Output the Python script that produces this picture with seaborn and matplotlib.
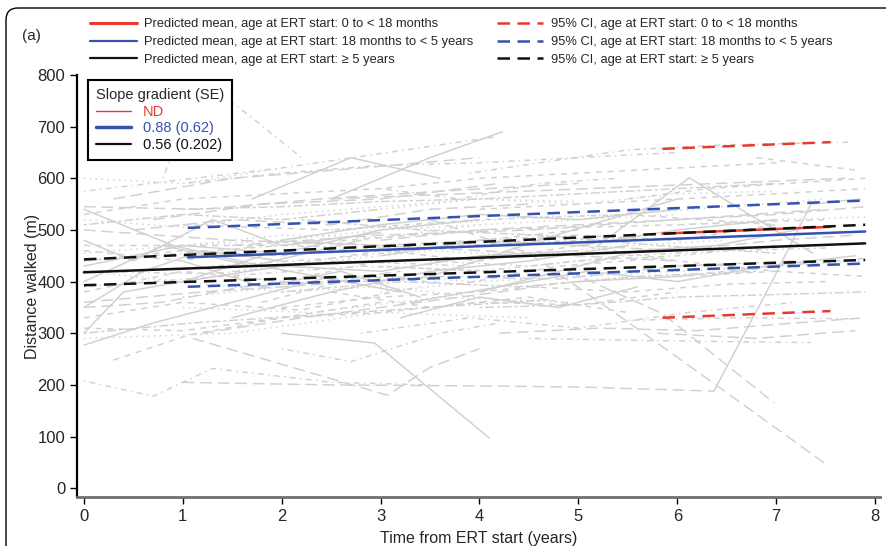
import numpy as np
import pandas as pd
import matplotlib
matplotlib.use("Agg")
import matplotlib.pyplot as plt
import seaborn as sns
from matplotlib.lines import Line2D
from matplotlib.patches import FancyBboxPatch
from matplotlib import font_manager

# individual patient trajectories (years from ERT start, distance walked in m, line type)
traj_t = [
    [0, 1, 2, 3, 4], [0, 1, 2, 3], [0, 0.7, 1.3, 2.5, 3.5], [0, 0.7, 1.5, 2.5],
    [0, 1.2, 2.4, 3.6, 5.0], [0, 1, 2, 3, 4, 5], [0, 2, 4.15], [0, 0.5, 1.3, 2.0, 3.0],
    [0, 1, 2.2, 3.4], [0, 1.1, 2.3, 3.5, 4.7], [0, 0.8, 1.7, 2.8], [0, 1, 2, 3, 4],
    [0, 1.5, 3, 4.5, 6], [0, 0.6, 1.2, 2.0], [0, 1, 2, 3, 4, 5, 6], [0, 1.3, 2.6, 3.9],
    [0, 0.9, 1.8, 3.2], [0, 1.5, 3, 4.5], [0, 1.2, 2.4, 3.6, 4.8, 6.0, 7.2], [0, 0.4, 1.0, 1.8],
    [0, 2, 4, 6, 7.5], [0, 1, 2, 3],
    [1, 2, 3, 4, 5], [1.0, 2.5, 4.0, 5.0, 6.37], [1.2, 2.2, 3.4, 4.6], [0.8, 1.15, 1.55, 2.2],
    [1.5, 2.5, 3.5, 4.5, 5.5], [1, 2, 3, 4, 5, 6], [0.3, 1.05, 2.0, 3.0], [2.0, 2.94, 4.1],
    [1.3, 2.5, 3.8, 5.0, 6.2], [0.7, 1.8, 3.0, 4.2], [2.5, 3.5, 4.23], [1.8, 2.8, 3.8, 4.8, 5.8],
    [1, 2, 3, 4, 5, 6, 7], [1.0, 1.8, 2.6, 3.4],
    [3, 4, 5, 6, 7], [3.5, 4.5, 5.5, 6.5, 7.5], [4.9, 5.85, 6.98], [3.9, 5.5, 6.5, 7.76],
    [3, 4, 5, 6, 7, 7.9], [3.2, 4.0, 4.8, 5.6], [2.5, 3.8, 5.1, 6.4, 7.7], [4, 5, 6, 7],
    [2.8, 3.9, 5.0, 6.1, 7.2], [3.5, 4.6, 5.3, 6.0], [4, 5, 6, 7, 7.9], [5.2, 6.12, 7.37],
    [3, 4, 5, 6, 7], [5, 6, 7, 7.9], [6.37, 6.95, 7.35, 7.85], [6.8, 7.8],
    [4.5, 6.0, 7.35], [5.5, 6.6, 7.76], [2, 3, 4, 5, 6], [2, 3, 4, 5],
    [2.5, 3.5, 4.5, 5.5, 6.5, 7.5], [3, 4, 5, 6, 7], [1.5, 3, 4.5, 6, 7.5], [3.3, 4.2, 5.1, 6.0, 6.9, 7.8],
    [2, 3.2, 4.4, 5.6, 6.8], [5.5, 6.3, 7.1, 7.9], [4, 4.8, 5.6, 6.4, 7.2], [1, 2.3, 3.6, 4.9],
    [0.3, 1.5, 2.8, 4.0], [1, 2, 3, 4, 5, 6], [1.7, 2.7, 3.6], [2, 3, 4, 5, 6, 7],
    [0, 1, 2], [1.1, 2.0, 3.07, 3.5, 4.0], [2.0, 2.7, 3.6, 4.2], [4.2, 5.2, 6.2, 7.2, 7.9],
    [5.0, 6.0, 7.0, 7.9], [0, 1, 2, 3, 4, 5], [2.2, 3.4, 4.6, 5.8, 7.0],
    [0, 1, 2, 3, 4, 5], [0, 1.4, 2.8, 4.2], [0.5, 1.5, 2.5, 3.5, 4.5], [1, 2, 3, 4],
    [2, 3, 4, 5, 6, 7], [3, 4, 5, 6, 7, 7.9], [4, 5, 6, 7, 7.9], [0, 1, 2, 3],
    [1.5, 2.5, 3.5, 4.5, 5.5, 6.5], [0, 0.8, 1.6, 2.4, 3.2], [3.5, 4.5, 5.5, 6.5, 7.5], [5, 6, 7, 7.8],
    [0, 1, 2, 3, 4], [2.5, 3.5, 4.5, 5.5], [4.5, 5.5, 6.5, 7.5], [6, 7, 7.9],
    [1, 2.5, 4, 5.5, 7], [5.8, 6.8, 7.8], [0, 1, 2], [3, 3.8, 4.6, 5.4],
]
traj_v = [
    [430, 470, 455, 500, 520], [380, 420, 400, 440], [208, 178, 232, 205, 200], [277, 320, 360, 410],
    [545, 540, 560, 575, 590], [520, 505, 530, 545, 560, 555], [575, 620, 680], [480, 440, 520, 470, 495],
    [330, 360, 345, 390], [300, 320, 335, 350, 365], [400, 470, 430, 480], [455, 470, 490, 485, 510],
    [500, 480, 470, 455, 440], [350, 420, 460, 440], [310, 305, 330, 340, 360, 355, 380], [420, 415, 440, 430],
    [540, 470, 430, 380], [290, 300, 340, 330], [360, 380, 395, 410, 405, 430, 440], [300, 380, 400, 450],
    [470, 470, 500, 510, 520], [510, 530, 520, 540],
    [400, 430, 420, 450, 460], [205, 200, 198, 196, 188], [300, 330, 360, 390], [600, 780, 740, 640],
    [330, 380, 420, 440, 470], [470, 480, 500, 510, 520, 530], [248, 296, 330, 360], [300, 281, 97],
    [430, 445, 470, 480, 495], [520, 550, 560, 590], [560, 640, 690], [360, 410, 395, 430, 445],
    [540, 545, 555, 560, 570, 580, 590], [440, 390, 420, 370],
    [450, 480, 470, 500, 520], [520, 455, 322, 185, 47], [420, 338, 165], [610, 655, 665, 670],
    [380, 400, 410, 420, 430, 440], [330, 370, 350, 390], [560, 570, 580, 590, 600], [470, 490, 480, 510],
    [300, 330, 310, 340, 360], [410, 480, 520, 560], [350, 355, 370, 375, 380], [470, 601, 455],
    [540, 560, 550, 570, 575], [400, 410, 430, 445], [188, 397, 550, 560], [640, 616],
    [290, 285, 282], [325, 330, 328], [480, 510, 530, 520, 540], [430, 460, 440, 470],
    [500, 510, 525, 530, 545, 560], [430, 420, 440, 450, 470], [470, 490, 500, 520, 540], [360, 390, 420, 400, 430, 450],
    [380, 400, 390, 410, 420], [560, 580, 590, 600], [380, 420, 460, 470, 500], [350, 340, 370, 360],
    [560, 600, 620, 640], [590, 610, 625, 630, 640, 650], [560, 640, 600], [570, 580, 600, 610, 620, 630],
    [600, 590, 620], [290, 240, 180, 234, 270], [270, 245, 300, 320], [300, 310, 305, 320, 330],
    [470, 440, 420, 410], [440, 455, 470, 465, 480, 490], [520, 500, 490, 470, 455],
    [440, 460, 450, 470, 480, 500], [390, 410, 430, 420], [500, 520, 510, 540, 550], [370, 390, 410, 400],
    [350, 370, 380, 400, 410, 420], [480, 500, 510, 520, 530, 545], [540, 550, 560, 570, 580], [460, 440, 480, 470],
    [420, 440, 460, 450, 470, 480], [350, 360, 390, 400, 420], [440, 430, 450, 460, 465], [470, 460, 480, 490],
    [420, 400, 380, 390, 370], [380, 350, 370, 340], [390, 380, 395, 400], [510, 520, 525],
    [510, 500, 520, 530, 510], [300, 290, 305], [530, 560, 570], [580, 560, 590, 600],
]
traj_ls = [
    "solid", "dashed", "dotdash", "solid", "longdash", "dotted", "dotdash", "solid",
    "dashed", "twodash", "solid", "dotted", "longdash", "solid", "dashed", "dotdash",
    "solid", "dotted", "longdash", "solid", "dashed", "twodash",
    "solid", "longdash", "longdash", "dotdash", "solid", "dotted", "dashed", "solid",
    "dotdash", "longdash", "solid", "dashed", "twodash", "solid",
    "solid", "longdash", "longdash", "dotdash", "dotted", "solid", "longdash", "dashed",
    "dotdash", "solid", "twodash", "solid", "dotted", "dashed", "solid", "dashed",
    "dotdash", "dotdash", "solid", "dashed", "dotted", "dotdash", "longdash", "solid",
    "twodash", "dashed", "solid", "dotted", "longdash", "dotdash", "solid", "dashed",
    "dotted", "longdash", "dotdash", "longdash", "dashed", "dotdash", "twodash",
    "dashed", "dotdash", "longdash", "dotted", "dashed", "longdash", "dashed", "dashed",
    "dotted", "longdash", "dotdash", "longdash", "dotted", "dashed", "dashed", "dotted",
    "dashed", "longdash", "dashed", "dotdash",
]

# predicted means and 95% CI (start/end of each line)
groups = ["0 to < 18 months", "18 months to < 5 years", "\u2265 5 years"]
group_colors = ["#e63a2e", "#3552b2", "#111111"]
pred_t = [[5.85, 7.55], [1.05, 7.9], [0.0, 7.9]]
pred_mean = [[493, 506], [447, 497], [418, 474]]
pred_lo = [[330, 343], [390, 435], [393, 442]]
pred_hi = [[657, 670], [504, 557], [443, 510]]
slope_labels = ["ND", "0.88 (0.62)", "0.56 (0.202)"]

dash_map = {"solid": "", "dashed": (4, 4), "dotted": (1, 3), "dotdash": (1, 3, 4, 3),
            "longdash": (8, 4), "twodash": (2, 2, 6, 2)}

rows = []
for i, (ts, vs, ls) in enumerate(zip(traj_t, traj_v, traj_ls)):
    for t, v in zip(ts, vs):
        rows.append({"id": i, "t": t, "v": v, "ls": ls})
df = pd.DataFrame(rows)

sns.set_style("ticks")
plt.rcParams["font.family"] = ["Liberation Sans", "DejaVu Sans"]
names = {f.name for f in font_manager.fontManager.ttflist}
narrow = "Liberation Sans Narrow" if "Liberation Sans Narrow" in names else "Liberation Sans"

fig = plt.figure(figsize=(8.87, 5.46), dpi=100)
ax = fig.add_axes([77 / 887, 1 - 497 / 546, 803 / 887, 422 / 546])

sns.lineplot(data=df, x="t", y="v", units="id", estimator=None, style="ls",
             dashes=dash_map, color="#d0d0d0", linewidth=1.05, sort=False,
             legend=False, ax=ax)

for k in range(3):
    pdf = pd.DataFrame({"t": pred_t[k] * 3,
                        "v": pred_mean[k] + pred_lo[k] + pred_hi[k],
                        "kind": ["mean"] * 2 + ["lo"] * 2 + ["hi"] * 2})
    for kind in ["lo", "hi"]:
        sns.lineplot(data=pdf[pdf.kind == kind], x="t", y="v", color=group_colors[k],
                     linewidth=1.8, ax=ax, legend=False, linestyle=(0, (5, 3)))
    sns.lineplot(data=pdf[pdf.kind == "mean"], x="t", y="v", color=group_colors[k],
                 linewidth=1.8, ax=ax, legend=False)

ax.set_xlim(-0.07, 8.05)
ax.set_ylim(-17, 800)
ax.set_xticks(range(0, 9))
ax.set_yticks(range(0, 801, 100))
ax.tick_params(axis="both", direction="out", length=5, width=1, labelsize=12, color="black")
for lab in ax.get_xticklabels() + ax.get_yticklabels():
    lab.set_family(narrow)
for s in ["top", "right"]:
    ax.spines[s].set_visible(False)
ax.spines["left"].set_linewidth(1.6)
ax.spines["left"].set_color("black")
ax.spines["bottom"].set_linewidth(2)
ax.spines["bottom"].set_color("#6f6f6f")
ax.set_xlabel("Time from ERT start (years)", fontsize=11.5, labelpad=5, family=narrow)
ax.set_ylabel("Distance walked (m)", fontsize=11.5, labelpad=-2, family=narrow)

# inset legend with slopes
slope_handles = [Line2D([], [], color=group_colors[0], lw=1.0),
                 Line2D([], [], color=group_colors[1], lw=2.5),
                 Line2D([], [], color=group_colors[2], lw=1.6)]
leg = ax.legend(slope_handles, slope_labels, title="Slope gradient (SE)",
                loc="upper left", bbox_to_anchor=(0.0137, 0.988), borderaxespad=0,
                fontsize=10.5, title_fontsize=10.5, handlelength=2.4, frameon=True,
                fancybox=False, framealpha=1, edgecolor="black", alignment="left",
                labelspacing=0.18, borderpad=0.55, handletextpad=0.8)
leg.get_frame().set_linewidth(1.5)
for txt, c in zip(leg.get_texts(), group_colors):
    txt.set_color(c)

# top legend
top_handles = [Line2D([], [], color=c, lw=2.2 if i == 0 else 1.6) for i, c in enumerate(group_colors)]
top_handles += [Line2D([], [], color=c, lw=1.8, linestyle=(0, (5, 3))) for c in group_colors]
top_labels = ["Predicted mean, age at ERT start: " + g for g in groups]
top_labels += ["95% CI, age at ERT start: " + g for g in groups]
fig.legend(top_handles, top_labels, ncol=2, loc="upper left",
           bbox_to_anchor=(85 / 887, 1 - 13 / 546), frameon=False, fontsize=9.3,
           handlelength=3.6, labelspacing=0.45, columnspacing=1.8, borderaxespad=0,
           handletextpad=0.6)

fig.text(22 / 887, 1 - 36 / 546, "(a)", fontsize=11, va="center", ha="left")

frame = FancyBboxPatch((0.06, -1.0), 12, 5.38 + 1.0, transform=fig.dpi_scale_trans,
                       boxstyle="round,pad=0,rounding_size=0.12", fill=False,
                       edgecolor="black", linewidth=1.0)
fig.patches.append(frame)

fig.savefig("out.png", dpi=100)
